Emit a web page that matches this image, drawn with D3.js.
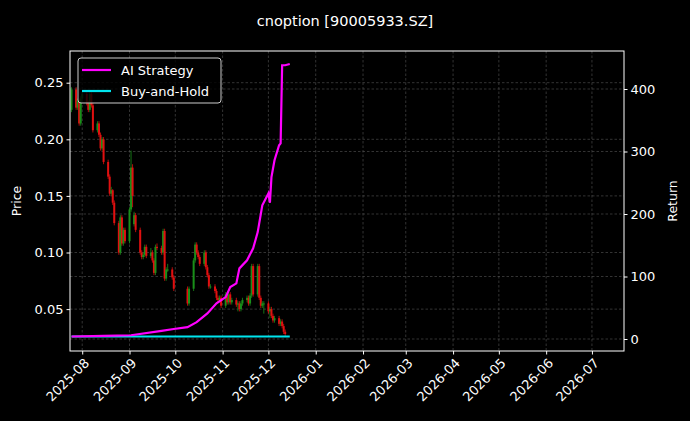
<!DOCTYPE html>
<html><head><meta charset="utf-8">
<script src="https://cdn.jsdelivr.net/npm/d3@7"></script>
<style>body{margin:0;background:#000}text{font-family:"DejaVu Sans",sans-serif}</style>
</head><body><svg id="c" width="690" height="421"></svg>
<script>
const title = "cnoption [90005933.SZ]";
const candleDates = ["2025-07-25","2025-07-28","2025-07-29","2025-07-30","2025-07-31","2025-08-01","2025-08-04","2025-08-05","2025-08-06","2025-08-07","2025-08-08","2025-08-11","2025-08-12","2025-08-13","2025-08-14","2025-08-15","2025-08-18","2025-08-19","2025-08-20","2025-08-21","2025-08-22","2025-08-25","2025-08-26","2025-08-27","2025-08-28","2025-08-29","2025-09-01","2025-09-02","2025-09-03","2025-09-04","2025-09-05","2025-09-08","2025-09-09","2025-09-10","2025-09-11","2025-09-12","2025-09-15","2025-09-16","2025-09-17","2025-09-18","2025-09-19","2025-09-22","2025-09-23","2025-09-24","2025-09-25","2025-09-26","2025-09-29","2025-09-30","2025-10-09","2025-10-10","2025-10-13","2025-10-14","2025-10-15","2025-10-16","2025-10-17","2025-10-20","2025-10-21","2025-10-22","2025-10-23","2025-10-24","2025-10-27","2025-10-28","2025-10-29","2025-10-30","2025-10-31","2025-11-03","2025-11-04","2025-11-05","2025-11-06","2025-11-07","2025-11-10","2025-11-11","2025-11-12","2025-11-13","2025-11-14","2025-11-17","2025-11-18","2025-11-19","2025-11-20","2025-11-21","2025-11-24","2025-11-25","2025-11-26","2025-11-27","2025-11-28","2025-12-01","2025-12-02","2025-12-03","2025-12-04","2025-12-05","2025-12-08","2025-12-09","2025-12-10","2025-12-11","2025-12-12"];
const opens  = [0.226,0.244,0.228,0.234,0.214,0.236,0.240,0.232,0.226,0.240,0.230,0.208,0.214,0.204,0.192,0.200,0.180,0.167,0.152,0.155,0.144,0.126,0.100,0.131,0.108,0.120,0.110,0.138,0.175,0.125,0.133,0.120,0.100,0.096,0.098,0.105,0.097,0.100,0.093,0.082,0.105,0.104,0.100,0.119,0.077,0.085,0.085,0.078,0.068,0.055,0.068,0.093,0.107,0.100,0.096,0.090,0.100,0.087,0.080,0.070,0.070,0.066,0.060,0.058,0.060,0.053,0.063,0.056,0.063,0.056,0.058,0.054,0.055,0.050,0.055,0.058,0.060,0.055,0.062,0.088,0.063,0.088,0.060,0.053,0.055,0.055,0.048,0.050,0.044,0.040,0.042,0.037,0.039,0.035,0.030];
const closes = [0.244,0.228,0.234,0.214,0.236,0.240,0.232,0.226,0.240,0.230,0.208,0.214,0.204,0.192,0.200,0.180,0.167,0.152,0.155,0.144,0.126,0.100,0.131,0.108,0.120,0.110,0.138,0.175,0.150,0.133,0.120,0.100,0.096,0.098,0.105,0.097,0.100,0.093,0.082,0.105,0.104,0.100,0.119,0.077,0.085,0.085,0.078,0.068,0.055,0.068,0.093,0.107,0.100,0.096,0.090,0.100,0.087,0.080,0.070,0.070,0.066,0.060,0.058,0.060,0.053,0.063,0.056,0.063,0.056,0.058,0.054,0.055,0.050,0.055,0.058,0.060,0.055,0.062,0.088,0.063,0.088,0.060,0.053,0.055,0.055,0.048,0.050,0.044,0.040,0.042,0.037,0.039,0.035,0.030,0.028];
const highs  = [0.246,0.246,0.236,0.236,0.238,0.242,0.242,0.234,0.242,0.242,0.232,0.216,0.216,0.206,0.202,0.202,0.182,0.169,0.158,0.156,0.146,0.128,0.133,0.133,0.122,0.122,0.140,0.190,0.178,0.136,0.135,0.122,0.102,0.100,0.107,0.107,0.104,0.102,0.095,0.107,0.108,0.106,0.121,0.121,0.087,0.090,0.087,0.080,0.070,0.070,0.095,0.109,0.109,0.102,0.098,0.102,0.102,0.089,0.082,0.072,0.072,0.068,0.062,0.062,0.062,0.065,0.065,0.065,0.065,0.060,0.060,0.057,0.057,0.057,0.060,0.062,0.062,0.064,0.090,0.090,0.090,0.090,0.062,0.057,0.057,0.057,0.052,0.052,0.046,0.044,0.044,0.041,0.041,0.037,0.032];
const lows   = [0.224,0.226,0.226,0.212,0.212,0.234,0.230,0.224,0.224,0.228,0.206,0.206,0.202,0.190,0.190,0.178,0.165,0.150,0.150,0.142,0.124,0.098,0.098,0.106,0.106,0.108,0.108,0.136,0.140,0.123,0.118,0.098,0.094,0.094,0.096,0.095,0.095,0.091,0.080,0.080,0.102,0.098,0.098,0.075,0.075,0.083,0.076,0.066,0.053,0.053,0.066,0.091,0.098,0.094,0.088,0.088,0.085,0.078,0.068,0.068,0.064,0.058,0.056,0.056,0.051,0.051,0.054,0.054,0.054,0.054,0.052,0.048,0.048,0.048,0.053,0.056,0.053,0.053,0.060,0.061,0.061,0.058,0.051,0.051,0.046,0.046,0.042,0.042,0.038,0.038,0.035,0.035,0.033,0.028,0.026];
const stratDates = ["2025-07-25","2025-08-15","2025-09-02","2025-09-22","2025-09-30","2025-10-09","2025-10-15","2025-10-22","2025-10-28","2025-11-03","2025-11-06","2025-11-10","2025-11-12","2025-11-17","2025-11-21","2025-11-24","2025-11-27","2025-12-01","2025-12-02","2025-12-03","2025-12-05","2025-12-08","2025-12-09","2025-12-10","2025-12-12","2025-12-15"];
const stratValues = [4,5,6,13,16,19,27,41,57,67,83,89,113,126,145,171,214,233,218,259,286,310,313,438,438,440];
const holdDates = ["2025-07-25","2025-12-15"];
const holdValues = [4,4];
const priceTicks = [0.05,0.10,0.15,0.20,0.25];
const returnTicks = [0,100,200,300,400];

const svg = d3.select("#c");
const L=70,R=624,T=51,B=351;
const parse=d3.utcParse("%Y-%m-%d");
const x=d3.scaleUtc().domain([parse("2025-07-24"),parse("2026-07-22")]).range([L,R]);
const y=d3.scaleLinear().domain([0.013,0.278]).range([B,T]);
const y2=d3.scaleLinear().domain([-19.2,460.8]).range([B,T]);
svg.append("rect").attr("width",690).attr("height",421).attr("fill","#000");
const months=d3.utcMonth.range(parse("2025-08-01"),parse("2026-07-02"));
const g=svg.append("g");
months.forEach(m=>g.append("line").attr("x1",x(m)).attr("x2",x(m)).attr("y1",T).attr("y2",B));
priceTicks.forEach(v=>g.append("line").attr("x1",L).attr("x2",R).attr("y1",y(v)).attr("y2",y(v)));
returnTicks.forEach(v=>g.append("line").attr("x1",L).attr("x2",R).attr("y1",y2(v)).attr("y2",y2(v)));
g.selectAll("line").attr("stroke","#555").attr("stroke-width",0.6).attr("stroke-dasharray","2.5,2");
// candles
const cd=candleDates.map((d,i)=>({d:parse(d),o:opens[i],h:highs[i],l:lows[i],c:closes[i]}));
const cg=svg.append("g");
cd.forEach(c=>{const col=c.c>=c.o?"#1a8f1a":"#e01010";const cx=x(c.d);
 cg.append("line").attr("x1",cx).attr("x2",cx).attr("y1",y(c.h)).attr("y2",y(c.l)).attr("stroke",col).attr("stroke-width",0.8);
 cg.append("rect").attr("x",cx-1).attr("width",2).attr("y",y(Math.max(c.o,c.c))).attr("height",Math.max(1,Math.abs(y(c.o)-y(c.c)))).attr("fill",col);});
const line=d3.line().x(d=>x(d[0])).y(d=>y2(d[1]));
svg.append("path").datum(holdDates.map((d,i)=>[parse(d),holdValues[i]])).attr("d",line).attr("fill","none").attr("stroke","#00e5ee").attr("stroke-width",2.2);
svg.append("path").datum(stratDates.map((d,i)=>[parse(d),stratValues[i]])).attr("d",line).attr("fill","none").attr("stroke","#ff00ff").attr("stroke-width",2.2);
svg.append("rect").attr("x",L).attr("y",T).attr("width",R-L).attr("height",B-T).attr("fill","none").attr("stroke","#fff").attr("stroke-width",1);
const ax=svg.append("g").attr("transform",`translate(0,${B})`).call(d3.axisBottom(x).tickValues(months).tickFormat(d3.utcFormat("%Y-%m")).tickSize(3.5));
ax.selectAll("text").attr("transform","rotate(-45)").attr("text-anchor","end").attr("dx","-0.3em").attr("dy","0.6em");
const ay=svg.append("g").attr("transform",`translate(${L},0)`).call(d3.axisLeft(y).tickValues(priceTicks).tickFormat(d3.format(".2f")).tickSize(3.5));
const ay2=svg.append("g").attr("transform",`translate(${R},0)`).call(d3.axisRight(y2).tickValues(returnTicks).tickSize(3.5));
[ax,ay,ay2].forEach(a=>{a.select(".domain").remove();a.selectAll("line").attr("stroke","#fff");a.selectAll("text").attr("fill","#fff").attr("font-size",13);});
svg.append("text").attr("x",345).attr("y",26).attr("text-anchor","middle").attr("fill","#fff").attr("font-size",14.5).text(title);
svg.append("text").attr("transform",`translate(21,${(T+B)/2}) rotate(-90)`).attr("text-anchor","middle").attr("fill","#fff").attr("font-size",12.5).text("Price");
svg.append("text").attr("transform",`translate(677,${(T+B)/2}) rotate(-90)`).attr("text-anchor","middle").attr("fill","#fff").attr("font-size",12.5).text("Return");
const lg=svg.append("g");
lg.append("rect").attr("x",78).attr("y",58).attr("width",143).attr("height",45).attr("rx",3).attr("fill","#000").attr("fill-opacity",0.8).attr("stroke","#ccc");
[["AI Strategy","#ff00ff"],["Buy-and-Hold","#00e5ee"]].forEach((e,i)=>{const yy=70+i*21;
 lg.append("line").attr("x1",82).attr("x2",111).attr("y1",yy).attr("y2",yy).attr("stroke",e[1]).attr("stroke-width",2.2);
 lg.append("text").attr("x",121).attr("y",yy+4.5).attr("fill","#fff").attr("font-size",13).text(e[0]);});
</script></body></html>
